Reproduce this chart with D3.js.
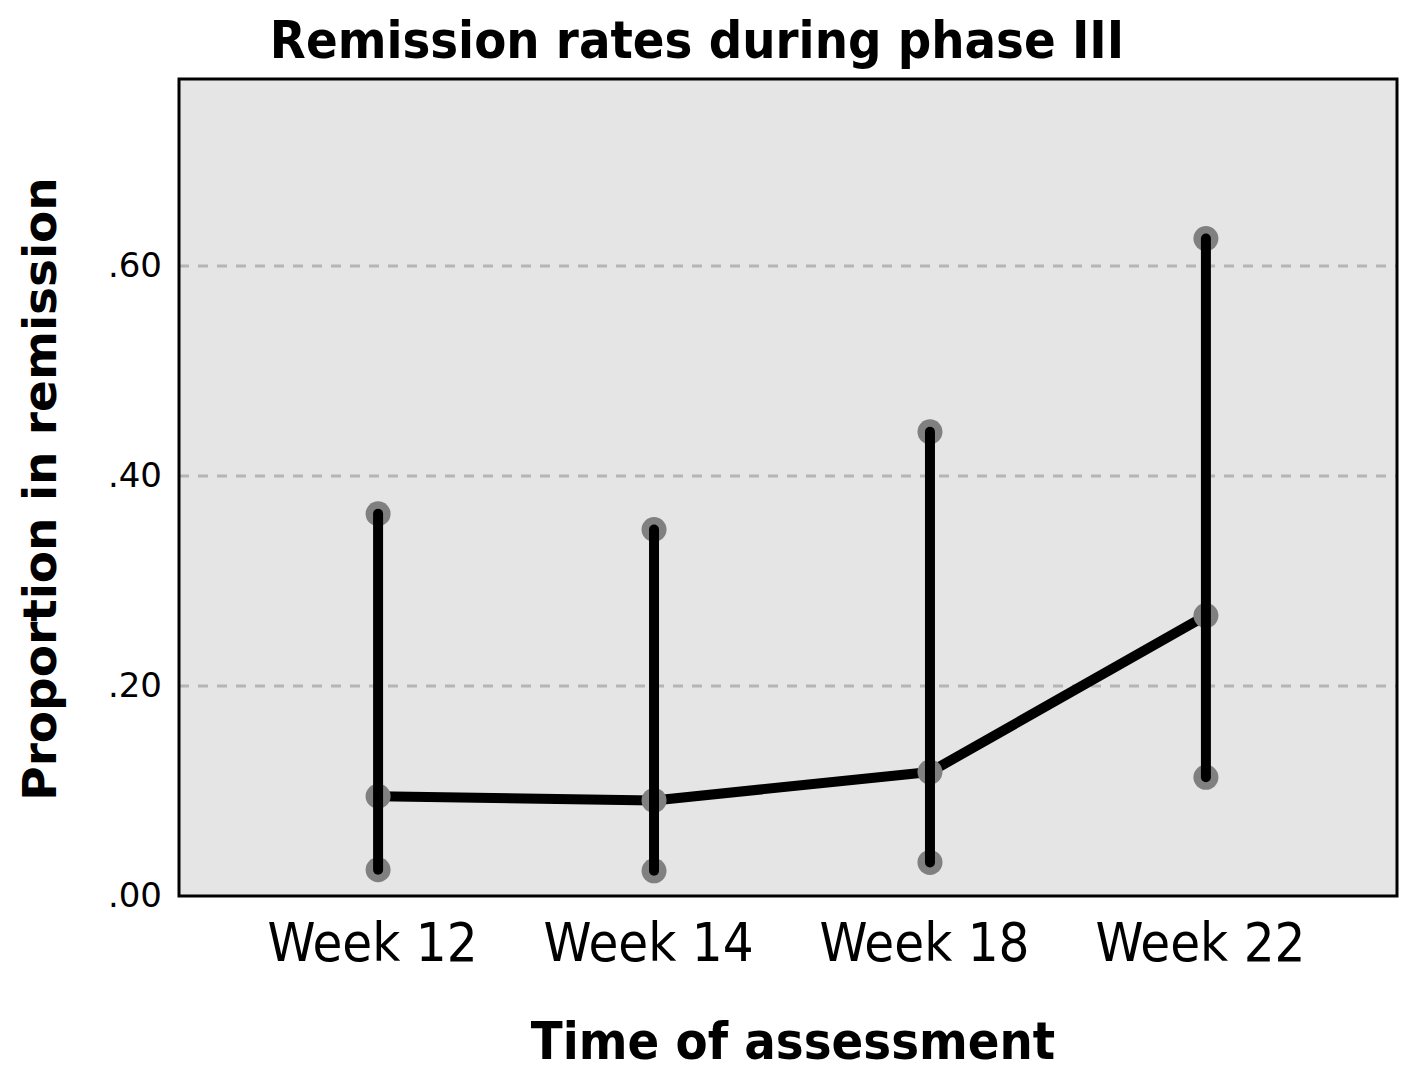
<!DOCTYPE html>
<html>
<head>
<meta charset="utf-8">
<script src="https://cdn.jsdelivr.net/npm/d3@7"></script>
<style>
  body { margin: 0; background: #fff; }
  svg { display: block; }
</style>
</head>
<body>
<svg width="1407" height="1070"></svg>
<script>
// data
const weeks = ['Week 12', 'Week 14', 'Week 18', 'Week 22'];
const means = [0.095, 0.091, 0.118, 0.267];
const lower = [0.025, 0.024, 0.032, 0.113];
const upper = [0.364, 0.349, 0.442, 0.626];
const yTicks = [0, 0.2, 0.4, 0.6];

const svg = d3.select('svg'),
  plotL = 179,
  plotR = 1397,
  plotT = 79,
  plotB = 896;

// categories sit slightly right of centre in the original
const x = d3.scalePoint().domain(weeks).range([plotL + 4, plotR + 4]).padding(0.707),
  y = d3.scaleLinear().domain([0, 0.778]).range([plotB, plotT]);

// plot background
svg.append('rect')
  .attr('x', plotL)
  .attr('y', plotT)
  .attr('width', plotR - plotL)
  .attr('height', plotB - plotT)
  .attr('fill', '#e5e5e5');

// dashed grid
svg.append('g')
  .selectAll('line')
  .data(yTicks.filter((d) => d > 0))
  .enter()
  .append('line')
  .attr('x1', plotL)
  .attr('x2', plotR)
  .attr('y1', (d) => y(d))
  .attr('y2', (d) => y(d))
  .attr('stroke', '#b5b5b5')
  .attr('stroke-width', 3)
  .attr('stroke-dasharray', '10,9');

// y axis labels
const yAxis = svg.append('g')
  .attr('transform', `translate(${plotL},0)`)
  .call(d3.axisLeft(y).tickValues(yTicks).tickSize(0).tickPadding(17)
    .tickFormat((d) => d3.format('.2f')(d).replace(/^0/, '')));
yAxis.select('.domain').remove();
yAxis.selectAll('text')
  .attr('font-family', 'DejaVu Sans')
  .attr('font-size', '34px')
  .attr('fill', '#000');

// x axis labels (drawn a touch left of the bars, as in the original)
const xAxis = svg.append('g')
  .attr('transform', `translate(0,${plotB})`)
  .call(d3.axisBottom(x).tickSize(0).tickPadding(27));
xAxis.select('.domain').remove();
xAxis.selectAll('text')
  .attr('dx', -6)
  .attr('font-family', 'DejaVu Sans Condensed')
  .attr('font-size', '54px')
  .attr('fill', '#000');

const pts = weeks.map((w, i) => ({ w, m: means[i], lo: lower[i], hi: upper[i] }));

// mean line
svg.append('path')
  .datum(pts)
  .attr('fill', 'none')
  .attr('stroke', '#000')
  .attr('stroke-width', 10)
  .attr('stroke-linejoin', 'round')
  .attr('d', d3.line().x((d) => x(d.w)).y((d) => y(d.m)));

// grey markers
const marks = [];
pts.forEach((d) => { marks.push([d.w, d.lo], [d.w, d.m], [d.w, d.hi]); });
svg.append('g')
  .selectAll('circle')
  .data(marks)
  .enter()
  .append('circle')
  .attr('cx', (d) => x(d[0]))
  .attr('cy', (d) => y(d[1]))
  .attr('r', 12.5)
  .attr('fill', '#808080');

// error bars
svg.append('g')
  .selectAll('line')
  .data(pts)
  .enter()
  .append('line')
  .attr('x1', (d) => x(d.w))
  .attr('x2', (d) => x(d.w))
  .attr('y1', (d) => y(d.lo))
  .attr('y2', (d) => y(d.hi))
  .attr('stroke', '#000')
  .attr('stroke-width', 10)
  .attr('stroke-linecap', 'round');

// frame
svg.append('rect')
  .attr('x', plotL)
  .attr('y', plotT)
  .attr('width', plotR - plotL)
  .attr('height', plotB - plotT)
  .attr('fill', 'none')
  .attr('stroke', '#000')
  .attr('stroke-width', 3);

// titles
svg.append('text')
  .attr('x', 697)
  .attr('y', 58)
  .attr('text-anchor', 'middle')
  .attr('font-family', 'DejaVu Sans Condensed')
  .attr('font-weight', 'bold')
  .attr('font-size', '52px')
  .text('Remission rates during phase III');

svg.append('text')
  .attr('x', 793)
  .attr('y', 1059)
  .attr('text-anchor', 'middle')
  .attr('font-family', 'DejaVu Sans Condensed')
  .attr('font-weight', 'bold')
  .attr('font-size', '52px')
  .text('Time of assessment');

svg.append('text')
  .attr('transform', 'translate(56,489) rotate(-90)')
  .attr('text-anchor', 'middle')
  .attr('font-family', 'DejaVu Sans')
  .attr('font-weight', 'bold')
  .attr('font-size', '47px')
  .text('Proportion in remission');
</script>
</body>
</html>
